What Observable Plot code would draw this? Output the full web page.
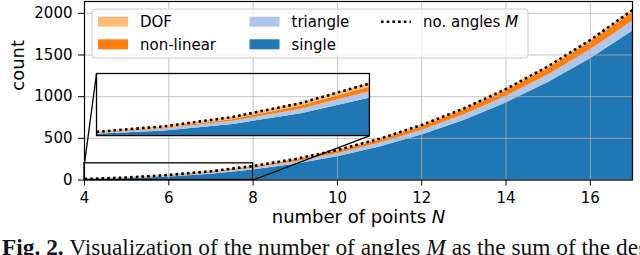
<!DOCTYPE html>
<html>
<head>
<meta charset="utf-8">
<script src="https://cdn.jsdelivr.net/npm/d3@7"></script>
<script src="https://cdn.jsdelivr.net/npm/@observablehq/plot@0.6"></script>
<style>
  html, body { margin: 0; padding: 0; background: white; overflow: hidden; }
  #wrap { position: relative; width: 640px; height: 236px; }
  #caption { font-family: "Liberation Serif", serif; font-size: 23.4px; line-height: 23px;
             white-space: nowrap; overflow: hidden; width: 640px; padding-left: 2px; color: #111; }
</style>
</head>
<body>
<div id="wrap"></div>
<div id="caption"><b>Fig. 2.</b> Visualization of the number of angles <i>M</i> as the sum of the degrees of freedom</div>
<script>
// ---- data ----
const N         = [4, 5, 6, 7, 8, 9, 10, 11, 12, 13, 14, 15, 16, 17];
const single    = [4, 15, 36, 70, 120, 189, 280, 396, 540, 715, 924, 1170, 1456, 1785];
const triangle  = [3, 6, 10, 15, 21, 28, 36, 45, 55, 66, 78, 91, 105, 120];
const nonLinear = [1, 3, 6, 10, 15, 21, 28, 36, 45, 55, 66, 78, 91, 105];
const dof       = [4, 6, 8, 10, 12, 14, 16, 18, 20, 22, 24, 26, 28, 30];
const angles    = [12, 30, 60, 105, 168, 252, 360, 495, 660, 858, 1092, 1365, 1680, 2040];

const seriesNames  = ["single", "triangle", "non-linear", "DOF"];
const seriesColors = ["#1f77b4", "#aec7e8", "#ff7f0e", "#ffbb78"];
const xTicks = [4, 6, 8, 10, 12, 14, 16];
const yTicks = [0, 500, 1000, 1500, 2000];
const xDomain = [4, 17];
const yDomain = [0, 2142];
const zoomX = [4, 8];
const zoomY = [0, 200];
const insetX = [4.285, 10.76];
const insetY = [530, 1275];

// ---- tables ----
const seriesValues = [single, triangle, nonLinear, dof];
const rows = seriesNames.flatMap((s, i) => N.map((n, j) => ({N: n, series: s, value: seriesValues[i][j]})));
const lineRows = N.map((n, j) => ({N: n, M: angles[j]}));

const dotted = {stroke: "black", strokeWidth: 2.6, strokeDasharray: "2.6,3.1", strokeLinecap: "butt"};
const areas = (clip) => Plot.areaY(rows, {x: "N", y: "value", fill: "series", order: seriesNames, clip});
const mLine = (clip) => Plot.lineY(lineRows, {x: "N", y: "M", ...dotted, clip});
const gridStyle = {stroke: "#b0b0b0", strokeOpacity: 0.75, strokeWidth: 1};

const main = Plot.plot({
  width: 640, height: 236,
  marginLeft: 84, marginRight: 8, marginTop: 1, marginBottom: 56.5,
  x: {domain: xDomain, label: null},
  y: {domain: yDomain, label: null},
  color: {domain: seriesNames, range: seriesColors},
  style: {fontFamily: "DejaVu Sans", fontSize: "15px", color: "black", background: "white", overflow: "visible"},
  marks: [
    areas(false),
    Plot.gridX(xTicks, gridStyle),
    Plot.gridY(yTicks, gridStyle),
    mLine(false),
    Plot.rect([{x1: zoomX[0], x2: zoomX[1], y1: zoomY[0], y2: zoomY[1]}],
      {x1: "x1", x2: "x2", y1: "y1", y2: "y2", fill: "none", stroke: "black", strokeWidth: 1.3}),
    Plot.link([
      {x1: zoomX[0], y1: zoomY[1], x2: insetX[0], y2: insetY[1]},
      {x1: zoomX[1], y1: zoomY[0], x2: insetX[1], y2: insetY[0]}
    ], {x1: "x1", y1: "y1", x2: "x2", y2: "y2", stroke: "black", strokeWidth: 1.3}),
    Plot.frame({stroke: "black", strokeWidth: 1.2}),
    Plot.axisX(xTicks, {tickSize: 6, tickPadding: 6, tickFormat: d3.format("d"), label: null, fontSize: 15}),
    Plot.axisY(yTicks, {tickSize: 6, tickPadding: 6, tickFormat: d3.format("d"), label: null, fontSize: 15}),
    Plot.text(["count"], {frameAnchor: "left", dx: -66, rotate: -90, fontSize: 18}),
    Plot.text(["number of points N"], {frameAnchor: "bottom", dy: 43, fontSize: 18})
  ]
});

const wrap = document.getElementById("wrap");
wrap.appendChild(main);

// italic N in x label
d3.select(main).selectAll("text").filter(function () { return this.textContent === "number of points N"; })
  .each(function () {
    const t = d3.select(this);
    t.text(null);
    t.append("tspan").text("number of points ");
    t.append("tspan").attr("font-style", "italic").text("N");
  });

// scales of the main chart
const sx = main.scale("x"), sy = main.scale("y");
const xs = d3.scaleLinear(sx.domain, sx.range);
const ys = d3.scaleLinear(sy.domain, sy.range);

// inset axes
const insetLeft = xs(insetX[0]), insetRight = xs(insetX[1]);
const insetTop = ys(insetY[1]), insetBottom = ys(insetY[0]);
const inset = Plot.plot({
  width: insetRight - insetLeft, height: insetBottom - insetTop, margin: 0,
  x: {domain: zoomX, axis: null},
  y: {domain: zoomY, axis: null},
  color: {domain: seriesNames, range: seriesColors},
  style: {background: "transparent", overflow: "visible"},
  marks: [
    areas(true),
    mLine(true),
    Plot.frame({stroke: "black", strokeWidth: 1.3})
  ]
});
inset.style.position = "absolute";
inset.style.left = insetLeft + "px";
inset.style.top = insetTop + "px";
wrap.appendChild(inset);

// legend (matplotlib-like, 3 columns)
const svg = d3.select(main);
const lg = svg.append("g").attr("font-family", "DejaVu Sans").attr("font-size", 15)
  .attr("text-anchor", "start").attr("fill", "black");
lg.append("rect").attr("x", 92).attr("y", 9).attr("width", 436).attr("height", 49).attr("rx", 3)
  .attr("fill", "white").attr("fill-opacity", 0.8).attr("stroke", "#cccccc").attr("stroke-width", 1);
const legendItems = [
  {label: "DOF", color: seriesColors[3], col: 0, row: 0},
  {label: "non-linear", color: seriesColors[2], col: 0, row: 1},
  {label: "triangle", color: seriesColors[1], col: 1, row: 0},
  {label: "single", color: seriesColors[0], col: 1, row: 1}
];
const colX = [98, 249.5, 381];
const rowY = [21.7, 44.3];
for (const it of legendItems) {
  const x = colX[it.col], y = rowY[it.row];
  lg.append("rect").attr("x", x).attr("y", y - 5).attr("width", 30).attr("height", 10).attr("fill", it.color);
  lg.append("text").attr("x", x + 42).attr("y", y + 5.4).attr("text-anchor", "start").text(it.label);
}
lg.append("line").attr("x1", colX[2]).attr("x2", colX[2] + 30).attr("y1", rowY[0]).attr("y2", rowY[0])
  .attr("stroke", "black").attr("stroke-width", 2.6).attr("stroke-dasharray", "2.6,3.1");
const mt = lg.append("text").attr("x", colX[2] + 42).attr("y", rowY[0] + 5.4).attr("text-anchor", "start");
mt.append("tspan").text("no. angles ");
mt.append("tspan").attr("font-style", "italic").text("M");
</script>
</body>
</html>
